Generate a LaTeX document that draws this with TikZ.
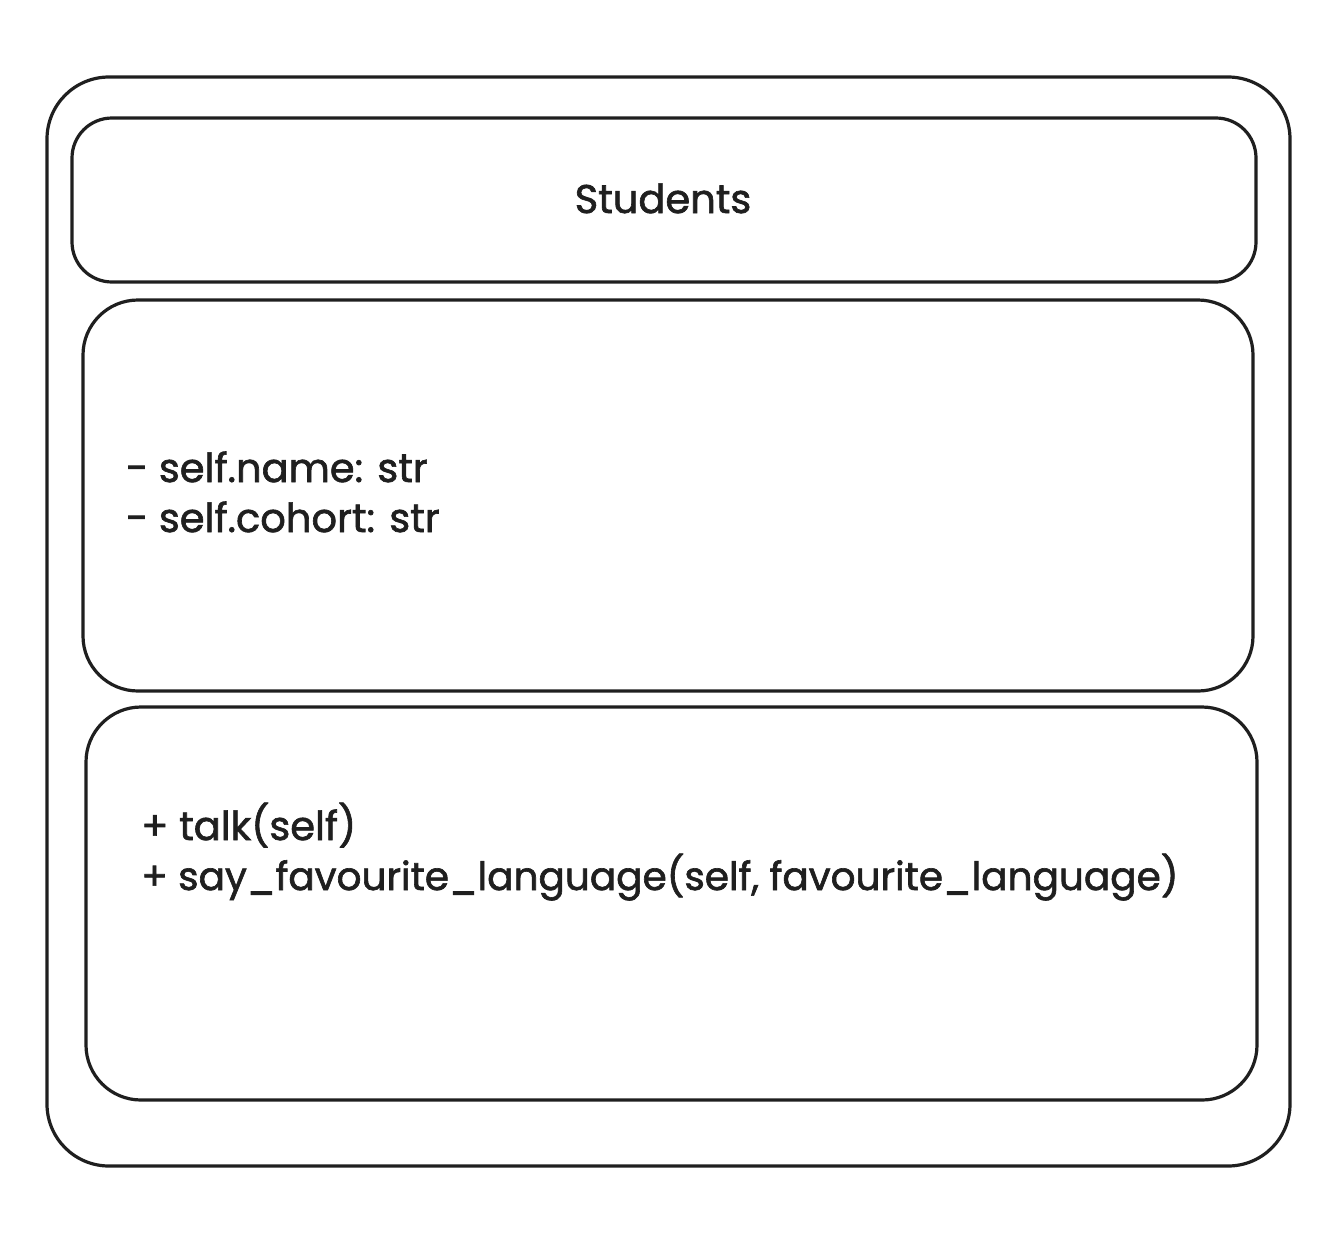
\documentclass[tikz,border=0pt]{standalone}
\usepackage{fontspec}
\setmainfont{Poppins}
\newfontfamily\handfont{Poppins}[FakeBold=1.6]
\begin{document}
\begin{tikzpicture}[x=1pt,y=-1pt,
  ink/.style={draw=black!88, line width=3.2pt},
  box/.style={ink, rounded corners=#1},
  txt/.style={inner sep=0pt, text=black!88, font=\handfont\fontsize{40}{46}\selectfont},
  lbl/.style={txt, anchor=base west}]
\useasboundingbox[fill=white] (0,0) rectangle (1336,1232);
\draw[box=62pt] (47,77) rectangle (1290,1166);
\draw[box=40pt] (72,118) rectangle (1256,282);
\draw[box=55pt] (83,300) rectangle (1253,691);
\draw[box=55pt] (86,707) rectangle (1257,1100);
\node[txt, anchor=base] (title) at (663,213) {Students};
\node[lbl] (a1) at (126,482) {- self.name: str};
\node[lbl] (a2) at (126,532) {- self.cohort: str};
\node[lbl] (m1) at (141,840) {+ talk(self)};
\node[lbl, font=\handfont\fontsize{39}{46}\selectfont] (m2) at (141,890) {+ say\_favourite\_language(self, favourite\_language)};
\end{tikzpicture}
\end{document}
